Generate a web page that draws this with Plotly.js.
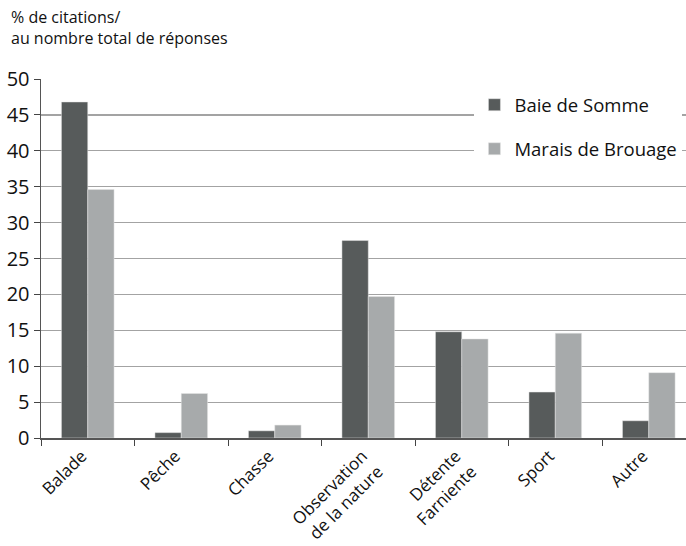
<!DOCTYPE html>
<html><head><meta charset="utf-8">
<script src="https://cdn.plot.ly/plotly-3.0.1.min.js"></script>
<style>html,body{margin:0;padding:0;background:#fff}#chart{width:686px;height:546px}</style>
</head><body><div id="chart"></div>
<script>
const categories = ["Balade", "Pêche", "Chasse", "Observation<br>de la nature", "Détente<br>Farniente", "Sport", "Autre"];
const baieDeSomme = [46.8, 0.75, 1.0, 27.5, 14.8, 6.4, 2.4];
const maraisDeBrouage = [34.6, 6.2, 1.8, 19.7, 13.8, 14.6, 9.1];
const yTicks = [0, 5, 10, 15, 20, 25, 30, 35, 40, 45, 50];
const FONT = "Open Sans, sans-serif";

const traces = [
  {type:"bar", name:"Baie de Somme", x:categories, y:baieDeSomme, legendgroup:"a",
   marker:{color:"#575b5b", line:{color:"#e6e6e6", width:0.5}}},
  {type:"bar", name:"Marais de Brouage", x:categories, y:maraisDeBrouage, legendgroup:"b",
   marker:{color:"#a7aaab", line:{color:"#e6e6e6", width:0.5}}}
];
const layout = {
  width:686, height:546,
  margin:{l:41, r:0, t:79, b:108},
  paper_bgcolor:"#fff", plot_bgcolor:"#fff",
  font:{family:FONT, color:"#111", size:16},
  barmode:"group", bargap:0.437, bargroupgap:0,
  showlegend:true,
  legend:{x:0.672, y:0.98, xanchor:"left", yanchor:"top", bgcolor:"#fff",
          font:{size:18.5, family:FONT, color:"#111"}, tracegroupgap:17, traceorder:"grouped"},
  xaxis:{type:"category", range:[-0.5, 6.398], tickson:"boundaries", ticks:"outside", ticklen:6,
         tickcolor:"#444", showline:true, linecolor:"#555", linewidth:1.5, tickangle:-45,
         ticklabelshift:-6,
         tickfont:{size:17, family:FONT, color:"#111"}, showgrid:false},
  yaxis:{range:[0, 50], tickvals:yTicks, ticktext:yTicks.map(String), ticks:"outside", ticklen:6,
         tickcolor:"#444", showline:true, linecolor:"#555", linewidth:1.5, gridcolor:"#a3a3a3",
         gridwidth:1.2, zeroline:false, tickfont:{size:20, family:FONT, color:"#111"}},
  annotations:[{text:"% de citations/<br>au nombre total de réponses", xref:"paper", yref:"paper",
    x:-0.05, y:1.21, xanchor:"left", yanchor:"top", align:"left", showarrow:false,
    font:{size:16, family:FONT, color:"#111"}}]
};
Plotly.newPlot("chart", traces, layout, {displayModeBar:false, staticPlot:true});
</script></body></html>
